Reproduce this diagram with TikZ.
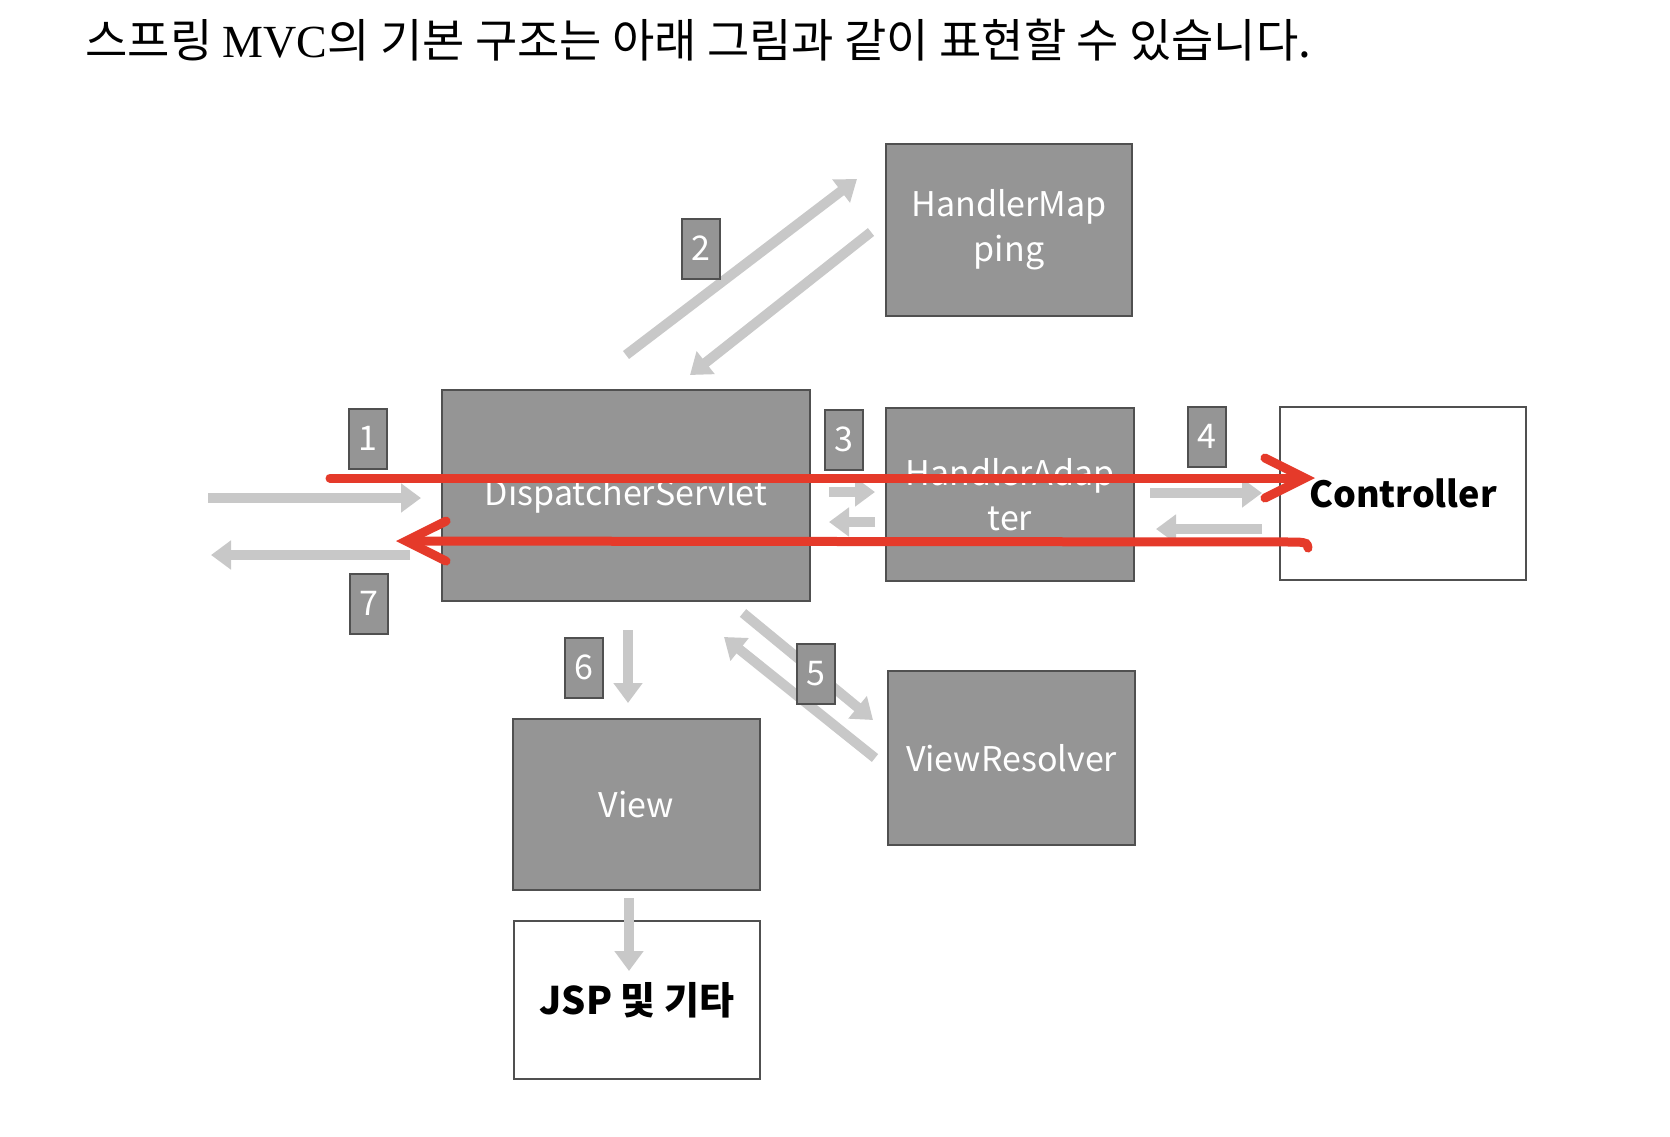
\documentclass[tikz,border=0pt]{standalone}
\usepackage{fontspec}
\setmainfont{Noto Sans CJK KR}
\newfontfamily\krfont{Noto Sans CJK KR}
\newfontfamily\serifl{Liberation Serif}
\usetikzlibrary{arrows.meta}
\definecolor{boxgray}{HTML}{959595}
\definecolor{boxline}{HTML}{505050}
\definecolor{arrgray}{HTML}{C8C8C8}
\definecolor{redarr}{HTML}{E53A2A}
\begin{document}
\begin{tikzpicture}[x=0.5pt,y=-0.5pt,
  graybox/.style={draw=boxline, line width=1.2pt, fill=boxgray, text=white, align=center,
     inner sep=0pt, font=\krfont\fontsize{17}{22.5}\selectfont},
  whitebox/.style={draw=boxline, line width=1.2pt, fill=white, text=black, align=center,
     inner sep=0pt, font=\krfont\bfseries\fontsize{18}{22}\selectfont},
  numbox/.style={draw=boxline, line width=1pt, fill=boxgray, text=white,
     minimum width=19pt, minimum height=30pt, inner sep=0pt, font=\krfont\fontsize{17}{20}\selectfont},
  garrow/.style={draw=arrgray, line width=5pt, -{Triangle[length=10pt,width=14pt]}},
  rarrow/.style={draw=redarr, line width=4.5pt, line cap=round,
     -{Straight Barb[length=20pt,width=20pt,line cap=round]}}
]
\useasboundingbox (0,0) rectangle (1670,1136);
\fill[white] (0,0) rectangle (1670,1136);

% title
\node[anchor=west, inner sep=0pt, font=\krfont\fontsize{23}{26}\selectfont] (title) at (85,40)
  {스프링 {\serifl MVC}의 기본 구조는 아래 그림과 같이 표현할 수 있습니다.};

% boxes
\node[graybox, minimum width=123pt, minimum height=86pt] (hm) at (1009,230) {\raisebox{-3pt}{\parbox{120pt}{\centering HandlerMap\\ping}}};
\node[graybox, minimum width=184pt, minimum height=105.5pt] (ds) at (626,495.5) {DispatcherServlet};
\node[graybox, minimum width=124pt, minimum height=86.5pt] (ha) at (1010,494.5) {HandlerAdap\\ter};
\node[whitebox, minimum width=123pt, minimum height=86.5pt] (ct) at (1403,493.5) {Controller};
\node[graybox, minimum width=123.5pt, minimum height=87pt] (vr) at (1011.5,758) {ViewResolver};
\node[graybox, minimum width=123.5pt, minimum height=85.5pt] (vw) at (636.5,804.5) {View};
\node[whitebox, minimum width=123pt, minimum height=79pt, font=\krfont\bfseries\fontsize{19}{22}\selectfont] (jsp) at (637,1000) {JSP 및 기타};

% gray arrow end points
\coordinate (a1s) at (208,498);  \coordinate (a1e) at (421,498);
\coordinate (a7s) at (410,555);  \coordinate (a7e) at (211,555);
\coordinate (a2s) at (626,355);  \coordinate (a2e) at (857,179);
\coordinate (a2bs) at (871,232); \coordinate (a2be) at (690,375);
\coordinate (a3s) at (829,492);  \coordinate (a3e) at (875,492);
\coordinate (a3bs) at (875,522); \coordinate (a3be) at (829,522);
\coordinate (a4s) at (1150,493); \coordinate (a4e) at (1262,493);
\coordinate (a4bs) at (1262,529);\coordinate (a4be) at (1156,529);
\coordinate (a5s) at (743,613);  \coordinate (a5e) at (873,720);
\coordinate (a5bs) at (875,758); \coordinate (a5be) at (724,637);
\coordinate (a6s) at (628,630);  \coordinate (a6e) at (628,703);
\coordinate (a8s) at (629,898);  \coordinate (a8e) at (629,971);

\draw[garrow] (a1s) -- (a1e);
\draw[garrow] (a7s) -- (a7e);
\draw[garrow] (a2s) -- (a2e);
\draw[garrow] (a2bs) -- (a2be);
\draw[garrow] (a3s) -- (a3e);
\draw[garrow] (a3bs) -- (a3be);
\draw[garrow] (a4s) -- (a4e);
\draw[garrow] (a4bs) -- (a4be);
\draw[garrow] (a5s) -- (a5e);
\draw[garrow] (a5bs) -- (a5be);
\draw[garrow] (a6s) -- (a6e);
\draw[garrow] (a8s) -- (a8e);

% number labels
\node[numbox] (n1) at (368,438.5) {1};
\node[numbox] (n2) at (701,248.5) {2};
\node[numbox] (n3) at (843.5,439.5) {3};
\node[numbox] (n4) at (1206.5,436.5) {4};
\node[numbox] (n5) at (816,674) {5};
\node[numbox] (n6) at (583.5,667.5) {6};
\node[numbox] (n7) at (369,603.5) {7};

% red arrows
\coordinate (r1s) at (330,478);  \coordinate (r1e) at (1315,478);
\coordinate (r2s) at (1308,548); \coordinate (r2m) at (1298,542); \coordinate (r2e) at (396,541);
\draw[rarrow] (r1s) -- (r1e);
\draw[rarrow] (r2s) .. controls (1307,543) .. (r2m) -- (r2e);
\end{tikzpicture}
\end{document}
